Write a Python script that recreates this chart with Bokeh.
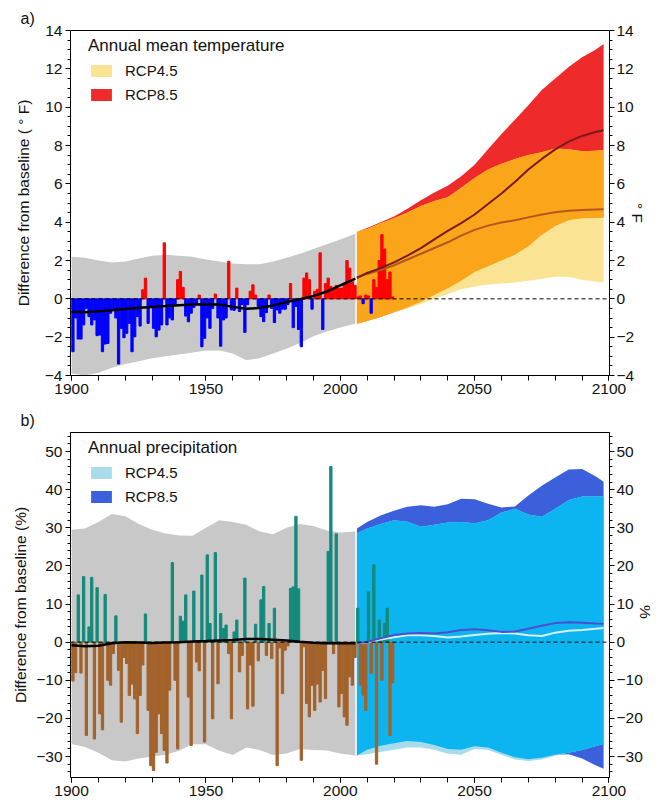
import math
import numpy as np
from bokeh.plotting import figure
from bokeh.models import (LinearAxis, SingleIntervalTicker, Legend, LegendItem,
                          Span, ColumnDataSource)
from bokeh.layouts import column
from bokeh.embed import file_html
from bokeh.resources import INLINE

FONT = "Liberation Sans"

# ---------------- data ----------------
years = list(range(1900, 2020))

temp_anom = [
    -2.76, -1.0, -2.1, -2.1, -1.36, -0.5, -0.93, -1.36, -1.1, -1.92,
    -1.89, -2.76, -2.36, -2.33, -0.75, -0.5, -1.0, -3.4, -1.54, -2.03,
    -1.8, -1.28, -2.76, -1.98, -0.93, -1.42, 0.47, 1.08, -1.28, -0.44,
    -1.54, -1.98, -1.63, -1.36, 2.92, -1.36, -1.0, -1.1, -0.3, 1.0,
    1.43, 0.6, -0.9, -1.2, -0.75, -0.45, -0.3, 0.2, -2.5, -2.06,
    -1.0, -1.54, -0.5, 0.25, -1.0, -2.47, -1.1, -1.0, 1.96, -0.58,
    -0.6, 0.56, -0.66, -0.3, -1.75, -0.3, 0.4, 0.73, 0.2, -0.4,
    -0.93, -1.19, -0.72, 0.2, -0.5, -1.24, -0.58, -0.75, -0.54, -0.54,
    -0.3, 0.8, -1.5, -0.4, -1.6, -2.5, 1.08, 1.35, 1.0, -0.54,
    0.4, 0.5, 2.4, -1.6, 0.8, 1.08, 0.65, 0.5, 0.7, 0.55,
    0.56, 0.82, 2.0, 1.6, 0.9, 0.7, 0.1, 0.15, -0.25, 0.2,
    0.15, -0.75, 1.0, 0.6, 2.0, 3.35, 2.6, 1.0, 1.4, 0.1,
]

precip_anom = [
    -10.2, -8.0, 12.4, -8.1, 17.2, -24.5, 4.0, 17.0, -25.4, 14.3,
    -18.8, -23.0, 12.5, -10.0, -11.3, -3.0, 6.9, -7.4, -21.0, -4.0,
    -5.6, -14.0, -11.0, -14.9, -24.0, -14.0, -6.0, 7.4, -17.9, -32.4,
    -33.7, -28.9, -18.8, -24.0, -28.4, -31.7, -12.6, 20.9, -10.0, -28.0,
    6.8, 5.5, 12.4, -14.4, -27.1, 13.4, -5.2, -7.5, 17.6, -26.2,
    22.9, 4.9, -20.1, 23.5, -10.9, 7.5, 3.6, 4.5, -3.0, -20.1,
    2.7, 5.8, -7.8, -3.5, 16.8, -17.5, -6.0, -16.8, 4.7, -4.9,
    11.1, 14.6, -3.5, 4.9, -4.3, 8.9, -32.4, -1.5, -13.5, -2.1,
    -1.0, 14.1, 14.5, 33.0, 14.0, -31.0, -1.2, -16.1, -19.6, -11.3,
    -17.9, -11.0, -15.7, -7.4, -14.8, 23.8, 46.1, -3.0, 28.4, -17.0,
    -13.5, -19.6, -21.8, -9.1, -11.3, -4.0, 8.9, -11.3, -13.9, -17.9,
    13.2, -8.2, 20.3, -32.0, 5.8, -10.0, 5.0, 8.9, -24.5, -10.7,
]

hist_years = [1900, 1905, 1910, 1915, 1920, 1925, 1930, 1935, 1940, 1945, 1950,
              1955, 1960, 1965, 1970, 1975, 1980, 1985, 1990, 1995, 2000, 2005.6]
temp_hist_upper = [2.2, 2.15, 2.0, 1.9, 1.95, 2.1, 2.25, 2.3, 2.25, 2.2, 2.05,
                   1.95, 1.85, 1.8, 1.8, 1.95, 2.15, 2.35, 2.6, 2.85, 3.1, 3.4]
temp_hist_lower = [-3.9, -4.0, -3.85, -3.6, -3.4, -3.25, -3.1, -3.0, -2.9, -2.8, -2.7,
                   -2.7, -2.85, -3.2, -3.1, -2.85, -2.6, -2.3, -1.95, -1.7, -1.5, -1.3]
temp_obs_smooth = [-0.67, -0.7, -0.65, -0.6, -0.53, -0.47, -0.42, -0.38, -0.33, -0.3, -0.28,
                   -0.3, -0.42, -0.52, -0.48, -0.35, -0.17, -0.02, 0.15, 0.38, 0.7, 1.05]

proj_years = [2006.2, 2010, 2015, 2020, 2025, 2030, 2035, 2040, 2045, 2050,
              2055, 2060, 2065, 2070, 2075, 2080, 2085, 2090, 2095, 2098]
t85_upper = [3.5, 3.7, 4.0, 4.3, 4.7, 5.15, 5.55, 5.9, 6.4, 7.0,
             7.8, 8.6, 9.35, 10.1, 10.9, 11.5, 12.1, 12.6, 13.0, 13.3]
t85_lower = [-1.3, -1.15, -0.95, -0.7, -0.45, -0.15, 0.2, 0.55, 0.95, 1.4,
             1.7, 2.0, 2.3, 2.75, 3.35, 3.8, 4.1, 4.2, 4.22, 4.23]
t45_upper = [3.5, 3.65, 3.95, 4.2, 4.5, 4.85, 5.1, 5.3, 5.8, 6.3,
             6.75, 7.05, 7.3, 7.5, 7.65, 7.85, 7.8, 7.7, 7.72, 7.75]
t45_lower = [-1.3, -1.15, -0.95, -0.7, -0.5, -0.25, 0.0, 0.25, 0.5, 0.65,
             0.75, 0.8, 0.85, 0.95, 1.05, 1.15, 1.15, 1.0, 0.9, 0.85]
t85_mean = [1.1, 1.35, 1.6, 1.9, 2.25, 2.65, 3.1, 3.55, 3.95, 4.4,
            4.95, 5.5, 6.1, 6.75, 7.3, 7.8, 8.2, 8.5, 8.7, 8.8]
t45_mean = [1.1, 1.3, 1.5, 1.75, 2.05, 2.35, 2.65, 2.95, 3.3, 3.6,
            3.82, 3.98, 4.1, 4.25, 4.4, 4.52, 4.6, 4.63, 4.66, 4.67]

p_hist_upper = [29.5, 29.8, 31.5, 33.6, 33.0, 31.0, 29.5, 28.5, 28.0, 27.9, 30.0,
                32.0, 31.5, 30.8, 29.0, 28.3, 30.0, 31.0, 30.5, 29.3, 28.8, 29.0]
p_hist_lower = [-26.7, -27.5, -29.0, -31.0, -31.3, -30.5, -30.0, -29.5, -28.5, -26.8, -26.8,
                -28.5, -29.6, -27.6, -28.3, -29.6, -29.2, -28.0, -28.3, -28.4, -29.2, -29.7]
p_obs_smooth = [-0.8, -1.1, -0.95, -0.3, 0.0, -0.1, -0.2, -0.1, 0.0, 0.2, 0.3,
                0.45, 0.6, 0.8, 0.8, 0.65, 0.45, 0.1, -0.15, -0.3, -0.3, -0.3]

p85_upper = [29.8, 31.5, 33.2, 34.5, 35.5, 35.9, 35.5, 36.2, 37.6, 37.5,
             36.3, 35.3, 35.6, 38.5, 41.0, 43.2, 45.3, 45.4, 43.5, 42.1]
p85_lower = [-29.7, -28.2, -27.2, -26.5, -25.9, -26.2, -27.0, -28.0, -28.2, -27.3,
             -27.6, -29.0, -30.2, -30.7, -30.3, -29.5, -29.4, -30.5, -32.3, -33.2]
p45_upper = [28.6, 29.8, 31.0, 32.0, 31.6, 30.3, 30.8, 31.4, 31.5, 31.2,
             32.0, 34.0, 35.0, 33.5, 32.9, 35.0, 37.3, 38.2, 38.2, 38.2]
p45_lower = [-29.7, -29.4, -28.8, -28.2, -27.6, -27.6, -28.2, -29.3, -29.5, -28.0,
             -28.3, -29.5, -30.8, -31.2, -30.8, -29.8, -29.0, -28.3, -27.3, -26.7]
p85_mean = [-0.3, 0.1, 1.0, 1.9, 2.3, 2.4, 2.3, 2.6, 3.2, 3.4,
            3.1, 2.7, 2.8, 3.5, 4.3, 5.0, 5.2, 5.1, 4.9, 4.8]
p45_mean = [-0.3, 0.0, 0.7, 1.3, 1.8, 1.8, 1.6, 1.2, 1.5, 1.9,
            2.2, 2.4, 2.3, 1.8, 1.6, 2.5, 3.0, 3.2, 3.5, 3.7]

# ---------------- colours ----------------
GRAY = "#c8c8c8"
T45, T85, TOVL = "#fbe394", "#ef2a2a", "#faa51a"
P45, P85, POVL = "#a9dcea", "#3c5fdc", "#0cb5f0"


def make_fig(height, yrange, btop, bbot, panel_tag):
    p = figure(width=665, height=height, x_range=(1899.6, 2100.2), y_range=yrange,
               output_backend="svg", toolbar_location=None,
               min_border_left=70, min_border_right=56,
               min_border_top=btop, min_border_bottom=bbot)
    p.xgrid.visible = False
    p.ygrid.visible = False
    p.outline_line_color = "black"
    p.outline_line_alpha = 1.0
    p.outline_line_width = 1
    p.title.text = panel_tag
    p.title.align = "left"
    p.title.offset = -50
    p.title.standoff = 7
    p.title.text_font = FONT
    p.title.text_font_size = "16px"
    p.title.text_font_style = "normal"
    p.title.text_color = "#111111"
    return p


def style_axis(ax, interval, nminor, minor_len=3):
    ax.ticker = SingleIntervalTicker(interval=interval, num_minor_ticks=nminor)
    ax.major_tick_out = 5
    ax.major_tick_in = 0
    ax.minor_tick_out = minor_len
    ax.minor_tick_in = 0
    ax.major_tick_line_color = "black"
    ax.minor_tick_line_color = "black"
    ax.axis_line_color = "black"
    ax.major_label_text_font = FONT
    ax.major_label_text_font_size = "15.5px"
    ax.major_label_text_color = "#111111"
    ax.major_label_standoff = 3
    ax.axis_label_text_font = FONT
    ax.axis_label_text_font_size = "15.5px"
    ax.axis_label_text_font_style = "normal"
    ax.axis_label_text_color = "#111111"


def add_legend(p, title, r45, r85, y_bottom):
    leg = Legend(items=[LegendItem(label="RCP4.5", renderers=[r45]),
                        LegendItem(label="RCP8.5", renderers=[r85])],
                 title=title, location=(18, y_bottom),
                 padding=0, margin=0, spacing=7,
                 glyph_width=26, glyph_height=15, label_standoff=11,
                 title_standoff=6,
                 border_line_color=None, background_fill_alpha=0,
                 title_text_font=FONT, title_text_font_size="17px",
                 title_text_font_style="normal", title_text_color="#111111",
                 label_text_font=FONT, label_text_font_size="15px",
                 label_text_color="#111111")
    p.add_layout(leg)


def right_axis(label, interval, nminor):
    ax = LinearAxis(axis_label=label)
    style_axis(ax, interval, nminor)
    ax.major_label_standoff = 2
    ax.axis_label_standoff = 0
    ax.axis_label_orientation = -math.pi / 2
    return ax


xbar = np.array(years) + 0.5

# ---------------- panel a ----------------
p1 = make_fig(400, (-4, 14), 30, 25, "a)")
p1.varea(x=hist_years, y1=temp_hist_lower, y2=temp_hist_upper, fill_color=GRAY)
r85 = p1.varea(x=proj_years, y1=t85_lower, y2=t85_upper, fill_color=T85)
r45 = p1.varea(x=proj_years, y1=t45_lower, y2=t45_upper, fill_color=T45)
p1.varea(x=proj_years, y1=np.maximum(t45_lower, t85_lower),
         y2=np.minimum(t45_upper, t85_upper), fill_color=TOVL)
ta = np.array(temp_anom)
src1 = ColumnDataSource(dict(x=xbar, top=ta,
                             color=np.where(ta >= 0, "#ff0000", "#0000ff")))
p1.vbar(x="x", top="top", bottom=0, width=0.85, color="color", source=src1)
p1.add_layout(Span(location=0, dimension="width", line_color="black",
                   line_dash="4 3", line_width=1))
p1.line(hist_years, temp_obs_smooth, line_color="black", line_width=2.5)
p1.line(proj_years, t45_mean, line_color="#b4561e", line_width=2)
p1.line(proj_years, t85_mean, line_color="#7c1a1a", line_width=2)

style_axis(p1.xaxis[0], 50, 5, minor_len=5)
style_axis(p1.yaxis[0], 2, 4)
p1.yaxis[0].axis_label = "Difference from baseline ( \u00b0 F)"
p1.yaxis[0].axis_label_standoff = 10
p1.add_layout(right_axis("\u00b0 F", 2, 4), "right")
add_legend(p1, "Annual mean temperature", r45, r85, 272)

# ---------------- panel b ----------------
p2 = make_fig(402, (-35.5, 55), 32, 25, "b)")
p2.varea(x=hist_years, y1=p_hist_lower, y2=p_hist_upper, fill_color=GRAY)
q85 = p2.varea(x=proj_years, y1=p85_lower, y2=p85_upper, fill_color=P85)
q45 = p2.varea(x=proj_years, y1=p45_lower, y2=p45_upper, fill_color=P45)
p2.varea(x=proj_years, y1=np.maximum(p45_lower, p85_lower),
         y2=np.minimum(p45_upper, p85_upper), fill_color=POVL)
pa = np.array(precip_anom)
src2 = ColumnDataSource(dict(x=xbar, top=pa,
                             color=np.where(pa >= 0, "#138a7c", "#a3622a")))
p2.vbar(x="x", top="top", bottom=0, width=0.85, color="color", source=src2)
p2.add_layout(Span(location=0, dimension="width", line_color="black",
                   line_dash="4 3", line_width=1))
p2.line(hist_years, p_obs_smooth, line_color="black", line_width=2.5)
p2.line(proj_years, p45_mean, line_color="#d8f0f7", line_width=2)
p2.line(proj_years, p85_mean, line_color="#4a4fd0", line_width=2)

style_axis(p2.xaxis[0], 50, 5, minor_len=5)
style_axis(p2.yaxis[0], 10, 5)
p2.yaxis[0].axis_label = "Difference from baseline (%)"
p2.yaxis[0].axis_label_standoff = 4
p2.add_layout(right_axis("%", 10, 5), "right")
add_legend(p2, "Annual precipitation", q45, q85, 272)

layout = column(p1, p2, spacing=0)
open("out.html", "w").write(file_html(layout, INLINE))
